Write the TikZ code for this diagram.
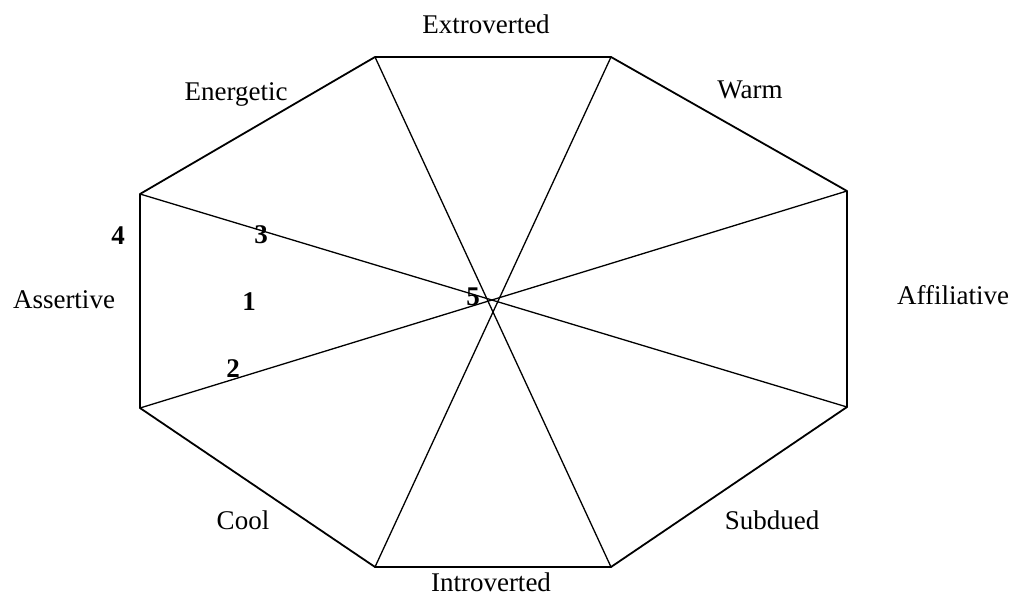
\documentclass[tikz,border=0pt]{standalone}
\usepackage{fontspec}
\setmainfont{Liberation Serif}
\begin{document}
\begin{tikzpicture}[x=1pt,y=-1pt,
  lbl/.style={inner sep=0pt,font=\fontsize{27}{30}\selectfont},
  num/.style={inner sep=0pt,font=\fontsize{27}{30}\selectfont\bfseries},
  edge/.style={line width=1.8pt,line join=round},
  spoke/.style={line width=1.3pt}]
\useasboundingbox (0,0) rectangle (1012,597);
\fill[white] (0,0) rectangle (1012,597);
% vertices
\coordinate (tl) at (375,57);
\coordinate (tr) at (611,57);
\coordinate (rt) at (847,191);
\coordinate (rb) at (847,407);
\coordinate (br) at (611,567);
\coordinate (bl) at (375,567);
\coordinate (lb) at (140,408);
\coordinate (lt) at (140,194);
% outline
\draw[edge] (tl) -- (tr) -- (rt) -- (rb) -- (br) -- (bl) -- (lb) -- (lt) -- cycle;
% spokes
\draw[spoke] (tl) -- (br);
\draw[spoke] (tr) -- (bl);
\draw[spoke] (lt) -- (rb);
\draw[spoke] (lb) -- (rt);
% labels
\node[lbl] (ext) at (486,24) {Extroverted};
\node[lbl] (int) at (491,582) {Introverted};
\node[lbl] (ene) at (236,94) {Energetic};
\node[lbl] (warm) at (750,90) {Warm};
\node[lbl] (ass) at (64,300) {Assertive};
\node[lbl] (aff) at (953,295) {Affiliative};
\node[lbl] (cool) at (243,520) {Cool};
\node[lbl] (sub) at (772,520) {Subdued};
% numbers
\node[num] (n4) at (118,236) {4};
\node[num] (n3) at (261,235) {3};
\node[num] (n1) at (249,302) {1};
\node[num] (n2) at (233,369) {2};
\node[num] (n5) at (473,297) {5};
\end{tikzpicture}
\end{document}
